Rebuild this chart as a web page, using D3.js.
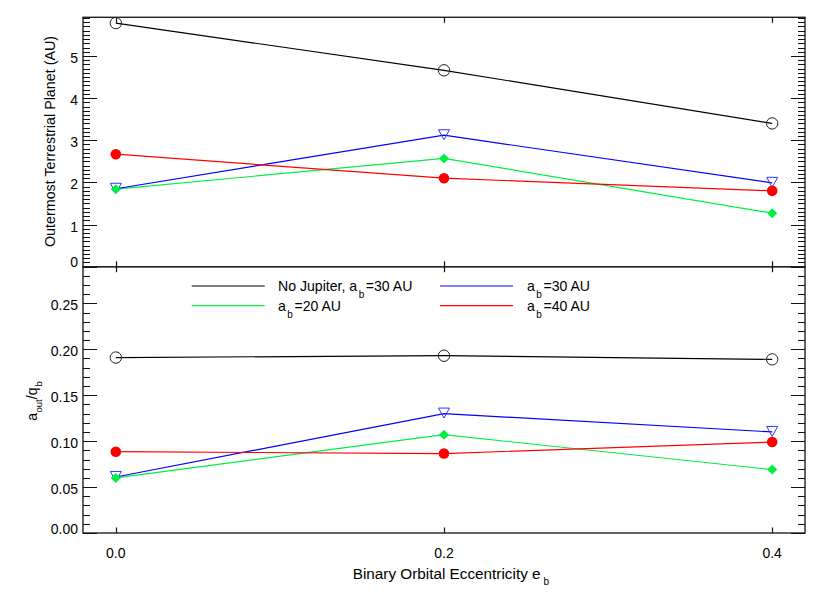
<!DOCTYPE html>
<html><head><meta charset="utf-8">
<script src="https://cdn.jsdelivr.net/npm/d3@7"></script>
<style>
body{margin:0;background:#fff;}
text{font-family:"Liberation Sans",Arial,Helvetica,sans-serif;fill:#000;}
</style></head>
<body><svg id="c" width="830" height="593"></svg>
<script>
// ---- data ----
const ecc = [0.0, 0.2, 0.4];
const xTicks = [0.0, 0.2, 0.4];
const xTickLabels = ["0.0", "0.2", "0.4"];
const topTicks = [0, 1, 2, 3, 4, 5];
const topTickLabels = ["0", "1", "2", "3", "4", "5"];
const botTicks = [0.00, 0.05, 0.10, 0.15, 0.20, 0.25];
const botTickLabels = ["0.00", "0.05", "0.10", "0.15", "0.20", "0.25"];

const topNoJup = [5.78, 4.66, 3.40];
const topA30   = [1.85, 3.12, 1.99];
const topA20   = [1.84, 2.57, 1.27];
const topA40   = [2.67, 2.10, 1.80];

const botNoJup = [0.191, 0.193, 0.189];
const botA30   = [0.061, 0.130, 0.110];
const botA20   = [0.060, 0.107, 0.069];
const botA40   = [0.0885, 0.0865, 0.099];

const legendLabels = [["No Jupiter, a", "b", "=30 AU"], ["a", "b", "=30 AU"], ["a", "b", "=20 AU"], ["a", "b", "=40 AU"]];
const colors = {nojup:"#000000", a30:"#0000ff", a20:"#00ee44", a40:"#ff0000"};

// ---- layout ----
const svg = d3.select("#c");
const L = 83, R = 805, T = 17.3, MID = 266.7, B = 533;
const x = d3.scaleLinear().domain([-0.02, 0.42]).range([L, R]);
const yTop = d3.scaleLinear().domain([0, 5.918]).range([MID, T]);
const yBot = d3.scaleLinear().domain([0, 0.2899]).range([B, MID]);
const snap = v => Math.round(v) + 0.5;

function panel(y, majors, labels, minorStep, minorMax, data){
  const g = svg.append("g");
  const minors = d3.range(0, minorMax + 1e-9, minorStep).filter(v => !majors.some(m => Math.abs(m - v) < 1e-9));
  const [y0, y1] = y.range();
  // frame
  g.append("rect").attr("x", L).attr("y", y1).attr("width", R - L).attr("height", y0 - y1)
    .attr("fill", "none").attr("stroke", "#222").attr("stroke-width", 1.4);
  // all ticks as one path built from the scales
  const yt = majors.map(v => ({v, len: 14})).concat(minors.map(v => ({v, len: 7})));
  const p = d3.path();
  yt.forEach(d => {
    const yy = snap(y(d.v));
    p.moveTo(L, yy); p.lineTo(L + d.len, yy);
    p.moveTo(R, yy); p.lineTo(R - d.len, yy);
  });
  xTicks.forEach(d => {
    const xx = snap(x(d));
    p.moveTo(xx, y0); p.lineTo(xx, y0 - 5.5);
    p.moveTo(xx, y1); p.lineTo(xx, y1 + 5.5);
  });
  g.append("path").attr("d", p.toString()).attr("fill", "none")
    .attr("stroke", "#111").attr("stroke-width", 1.2);
  // y tick labels
  g.append("g").selectAll("text").data(majors).join("text")
    .attr("x", L - 5).attr("y", d => y(d)).attr("text-anchor", "end").attr("font-size", 14)
    .attr("dy", d => d === 0 ? "0.04em" : "0.5em").text((d, i) => labels[i]);

  const line = d3.line().x((d, i) => x(ecc[i])).y(d => y(d));
  ["nojup", "a20", "a30", "a40"].forEach(k => {
    g.append("path").attr("d", line(data[k])).attr("fill", "none")
      .attr("stroke", colors[k]).attr("stroke-width", 1.2);
  });
  data.nojup.forEach((v, i) => g.append("circle").attr("cx", x(ecc[i])).attr("cy", y(v)).attr("r", 5.7)
    .attr("fill", "none").attr("stroke", "#222").attr("stroke-width", 1));
  data.a30.forEach((v, i) => {
    const cx = x(ecc[i]), cy = y(v);
    g.append("path").attr("d", `M${cx-5.5},${cy-5.5}L${cx+5.5},${cy-5.5}L${cx},${cy+4.5}Z`)
      .attr("fill", "none").attr("stroke", "#3333ff").attr("stroke-width", 1);
  });
  data.a20.forEach((v, i) => {
    const cx = x(ecc[i]), cy = y(v);
    g.append("path").attr("d", `M${cx},${cy-5}L${cx+5},${cy}L${cx},${cy+5}L${cx-5},${cy}Z`)
      .attr("fill", colors.a20);
  });
  data.a40.forEach((v, i) => g.append("circle").attr("cx", x(ecc[i])).attr("cy", y(v)).attr("r", 5.3)
    .attr("fill", colors.a40));
}

panel(yTop, topTicks, topTickLabels, 0.1, 5.9, {nojup: topNoJup, a30: topA30, a20: topA20, a40: topA40});
panel(yBot, botTicks, botTickLabels, 0.01, 0.28, {nojup: botNoJup, a30: botA30, a20: botA20, a40: botA40});

// x tick labels
svg.append("g").selectAll("text").data(xTicks).join("text")
  .attr("x", d => x(d)).attr("y", 558).attr("text-anchor", "middle").attr("font-size", 14)
  .text((d, i) => xTickLabels[i]);

// axis titles
const xt = svg.append("text").attr("x", 352.7).attr("y", 579).attr("font-size", 15.3);
xt.append("tspan").text("Binary Orbital Eccentricity e");
xt.append("tspan").attr("font-size", 10).attr("dy", 6).attr("dx", 3).text("b");

svg.append("text").attr("transform", "translate(54.5,141.5) rotate(-90)").attr("text-anchor", "middle")
  .attr("font-size", 14.3).text("Outermost Terrestrial Planet (AU)");

const yl = svg.append("text").attr("transform", "translate(37,401) rotate(-90)").attr("text-anchor", "middle").attr("font-size", 14);
yl.append("tspan").text("a");
yl.append("tspan").attr("font-size", 9.5).attr("dy", 5).attr("dx", 0.5).text("out");
yl.append("tspan").attr("dy", -5).text("/q");
yl.append("tspan").attr("font-size", 9.5).attr("dy", 5).attr("dx", 1).text("b");

// legend
const legPos = [[191.7, 286, 278], [440, 286, 527], [191.7, 305.7, 278], [440, 305.7, 527]];
["nojup", "a30", "a20", "a40"].forEach((k, i) => {
  const [lx, ly, tx] = legPos[i];
  svg.append("line").attr("x1", lx).attr("x2", lx + 73).attr("y1", ly).attr("y2", ly)
    .attr("stroke", colors[k]).attr("stroke-width", 1.2);
  const t = svg.append("text").attr("x", tx).attr("y", ly + 5).attr("font-size", 14.1);
  t.append("tspan").text(legendLabels[i][0]);
  t.append("tspan").attr("font-size", 10).attr("dy", 7).attr("dx", 1.5).text(legendLabels[i][1]);
  t.append("tspan").attr("dy", -7).attr("dx", 1.5).text(legendLabels[i][2]);
});
</script></body></html>
